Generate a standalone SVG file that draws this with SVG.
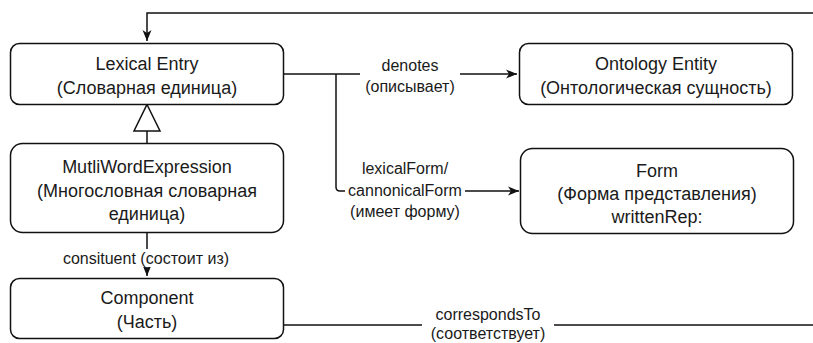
<svg xmlns="http://www.w3.org/2000/svg" width="813" height="343" viewBox="0 0 813 343">
<style>
.box{fill:#fff;stroke:#111;stroke-width:1.5}
.nt{font-family:"Liberation Sans",Arial,sans-serif;font-size:18px;fill:#1a1a1a;text-anchor:middle}
.lt{font-family:"Liberation Sans",Arial,sans-serif;font-size:16px;fill:#1a1a1a;text-anchor:middle}
.ln{fill:none;stroke:#111;stroke-width:1.5}
.bg{fill:#fff}
</style>
<defs>
<marker id="arr" markerUnits="userSpaceOnUse" markerWidth="12" markerHeight="10" refX="11" refY="5" orient="auto">
<path d="M0,0.5 L11,5 L0,9.5 L3,5 Z" fill="#111"/>
</marker>
</defs>
<rect width="813" height="343" fill="#fff"/>
<g id="connectors">
<path class="ln" d="M813,13 H147 V41" marker-end="url(#arr)"/>
<path class="ln" d="M283,325 H813"/>
<rect class="bg" x="422" y="305" width="132" height="38"/>
<text class="lt" x="488" y="320">correspondsTo</text>
<text class="lt" x="488" y="339">(соответствует)</text>
<path class="ln" d="M147,143 V131"/>
<path d="M147,104.5 L160,131 L134,131 Z" fill="#fff" stroke="#111" stroke-width="1.5"/>
<path class="ln" d="M147,232 V276" marker-end="url(#arr)"/>
<rect class="bg" x="55" y="249" width="183" height="18"/>
<text class="lt" x="146" y="263.5">consituent (состоит из)</text>
<path class="ln" d="M283,74 H517" marker-end="url(#arr)"/>
<rect class="bg" x="360" y="56" width="100" height="38"/>
<text class="lt" x="410" y="70.5">denotes</text>
<text class="lt" x="410" y="91.5">(описывает)</text>
<path class="ln" d="M336,74 V187 Q336,191 340,191 H519" marker-end="url(#arr)"/>
<rect class="bg" x="345" y="183" width="120" height="16"/>
<text class="lt" x="405" y="173.5">lexicalForm/</text>
<text class="lt" x="405" y="195.5">cannonicalForm</text>
<text class="lt" x="405" y="216.5">(имеет форму)</text>
</g>
<g id="lexical-entry">
<rect class="box" x="10.5" y="43.5" width="273" height="61" rx="9"/>
<text class="nt" x="147" y="70">Lexical Entry</text>
<text class="nt" x="147" y="93.5">(Словарная единица)</text>
</g>
<g id="ontology-entity">
<rect class="box" x="519.5" y="43.5" width="273" height="61" rx="9"/>
<text class="nt" x="656" y="70">Ontology Entity</text>
<text class="nt" x="656" y="93.5">(Онтологическая сущность)</text>
</g>
<g id="mwe">
<rect class="box" x="10.5" y="143.5" width="273" height="89" rx="12"/>
<text class="nt" x="147" y="173">MutliWordExpression</text>
<text class="nt" x="147" y="196.5">(Многословная словарная</text>
<text class="nt" x="147" y="219.5">единица)</text>
</g>
<g id="form">
<rect class="box" x="520.5" y="148.5" width="273" height="85" rx="12"/>
<text class="nt" x="657" y="177">Form</text>
<text class="nt" x="657" y="200">(Форма представления)</text>
<text class="nt" x="657" y="222.5">writtenRep:</text>
</g>
<g id="component">
<rect class="box" x="10.5" y="278.5" width="273" height="60" rx="9"/>
<text class="nt" x="147" y="304">Component</text>
<text class="nt" x="147" y="328">(Часть)</text>
</g>
</svg>
